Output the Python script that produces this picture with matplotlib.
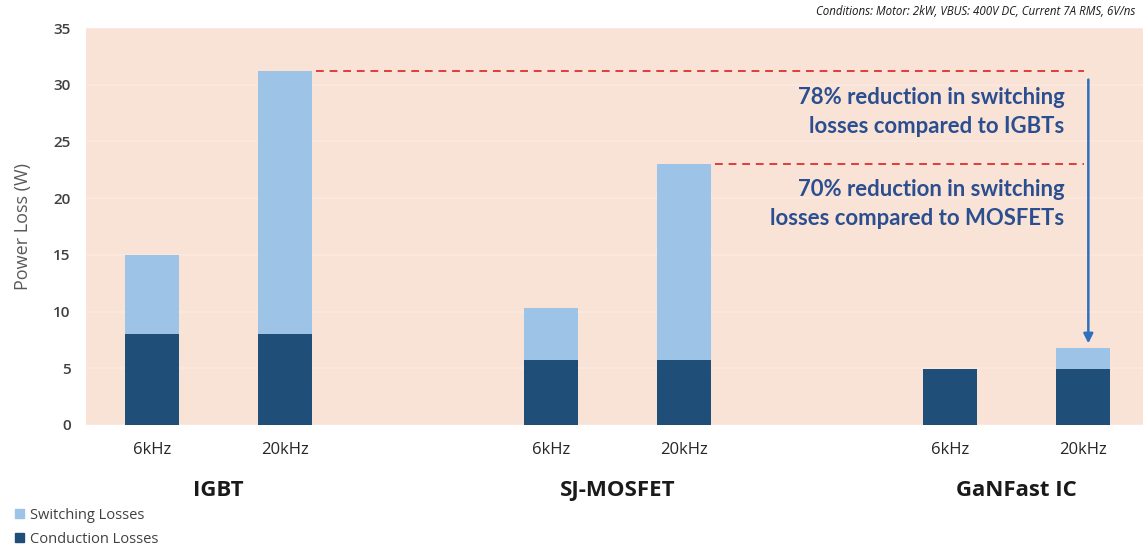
import matplotlib
matplotlib.use("Agg")
import matplotlib.pyplot as plt
from matplotlib.patches import Patch

# ---- data ----
groups = ["IGBT", "SJ-MOSFET", "GaNFast IC"]
freqs = ["6kHz", "20kHz"]
tick_labels = ["6kHz", "20kHz", "6kHz", "20kHz", "6kHz", "20kHz"]
conduction = [8.0, 8.0, 5.7, 5.7, 4.9, 4.9]
totals = [15.0, 31.2, 10.3, 23.0, 4.9, 6.8]
switching = [t - c for t, c in zip(totals, conduction)]
conditions = "Conditions: Motor: 2kW, VBUS: 400V DC, Current 7A RMS, 6V/ns"
note_igbt = "78% reduction in switching\nlosses compared to IGBTs"
note_mos = "70% reduction in switching\nlosses compared to MOSFETs"

positions = [0, 1, 3, 4, 6, 7]
group_centers = [0.5, 3.5, 6.5]

plt.rcParams['font.family'] = ['Open Sans', 'DejaVu Sans']

fig = plt.figure(figsize=(11.43, 5.45), dpi=100)
ax = fig.add_axes([0.0752, 0.2202, 0.9248, 0.7284])
ax.set_facecolor("#f9e3d6")

dark = "#1f4e79"
light = "#9dc3e6"
ax.bar(positions, conduction, width=0.4, color=dark, zorder=3)
ax.bar(positions, switching, width=0.4, bottom=conduction, color=light, zorder=3)

ax.set_xlim(-0.496, 7.451)
ax.set_ylim(0, 35)
ax.set_yticks(range(0, 36, 5))
ax.grid(axis="y", color="#fbe9df", linewidth=1.2, zorder=1)
for s in ax.spines.values():
    s.set_visible(False)
ax.tick_params(axis="both", length=0)
ax.tick_params(axis="y", labelsize=11, labelcolor="#404040", pad=11)
for lbl in ax.get_yticklabels():
    lbl.set_fontweight("semibold")
ax.set_xticks(positions)
ax.set_xticklabels(tick_labels, fontsize=12, color="#262626")
ax.tick_params(axis="x", pad=12)
ax.set_ylabel("Power Loss (W)", fontsize=13, color="#595959", labelpad=15)

for gx, g in zip(group_centers, groups):
    ax.text(gx, -5.75, g, ha="center", va="center", fontsize=16, fontweight="bold",
            color="#1a1a1a", clip_on=False)

# dashed reference lines
x_end = 7.01
ax.plot([1.23, x_end], [totals[1], totals[1]], ls=(0, (4, 3)), color="#e03c3c", lw=1.4, zorder=4)
ax.plot([4.23, x_end], [totals[3], totals[3]], ls=(0, (4, 3)), color="#e03c3c", lw=1.4, zorder=4)

# arrow
ax.annotate("", xy=(7.04, totals[5] + 0.15), xytext=(7.04, totals[1] - 0.5),
            arrowprops=dict(arrowstyle="-|>", color="#2e6fbf", lw=1.8, mutation_scale=14),
            zorder=5)

ax.text(6.86, 27.6, note_igbt, ha="right", va="center", fontsize=15.9, fontweight="bold",
        color="#2a4e8f", linespacing=1.45, family=['Lato', 'DejaVu Sans'])
ax.text(6.86, 19.5, note_mos, ha="right", va="center", fontsize=15.9, fontweight="bold",
        color="#2a4e8f", linespacing=1.45, family=['Lato', 'DejaVu Sans'])

fig.text(0.993, 0.978, conditions, ha="right", va="center", fontsize=8.3, style="italic",
         color="#1a1a1a")

handles = [Patch(color=light, label="Switching Losses"), Patch(color=dark, label="Conduction Losses")]
fig.legend(handles=handles, loc="lower left", bbox_to_anchor=(0.002, -0.027), frameon=False,
           fontsize=10.5, handlelength=0.6, handleheight=0.6, handletextpad=0.4,
           labelspacing=0.62, labelcolor="#404040")

fig.savefig("out.png", dpi=100)
